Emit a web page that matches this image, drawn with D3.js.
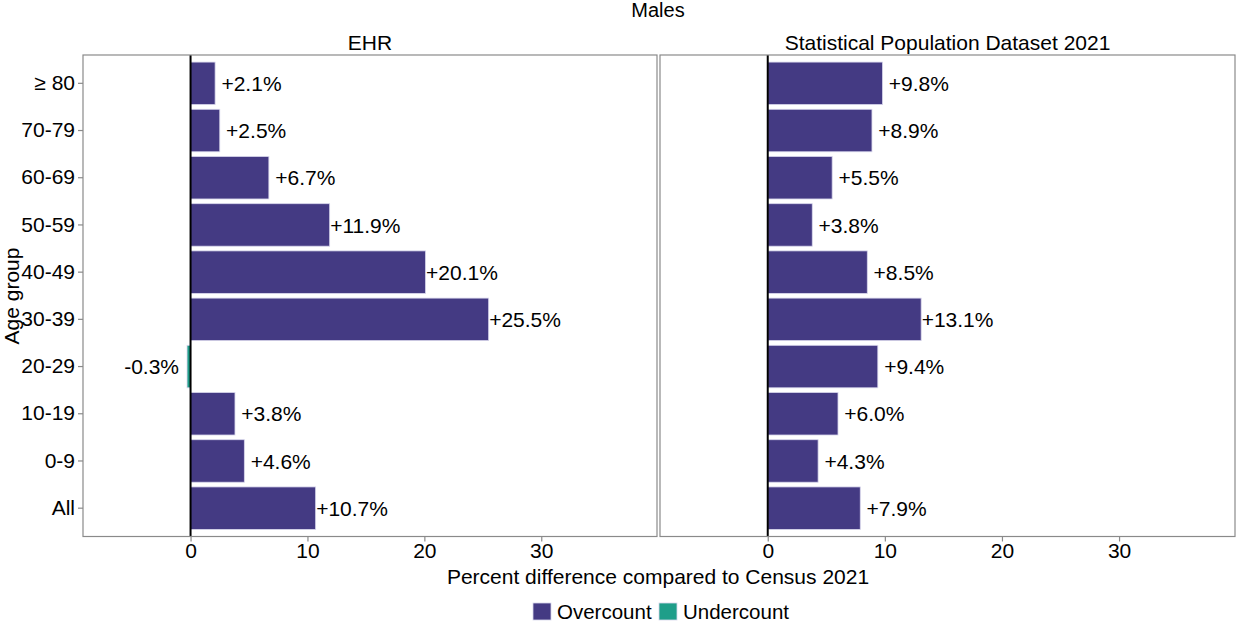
<!DOCTYPE html>
<html><head><meta charset="utf-8">
<script src="https://cdn.jsdelivr.net/npm/d3@7/dist/d3.min.js"></script>
<style>
body{margin:0;background:#fff;}
svg text{font-family:"Liberation Sans",Arial,sans-serif;fill:#000;}
</style></head>
<body><svg id="chart" width="1237" height="622"></svg>
<script>
const categories = ["≥ 80","70-79","60-69","50-59","40-49","30-39","20-29","10-19","0-9","All"];
const panels = ["EHR","Statistical Population Dataset 2021"];
const ehrValues = [2.1, 2.5, 6.7, 11.9, 20.1, 25.5, -0.3, 3.8, 4.6, 10.7];
const spdValues = [9.8, 8.9, 5.5, 3.8, 8.5, 13.1, 9.4, 6.0, 4.3, 7.9];
const xTicks = [0, 10, 20, 30];
const legendLabels = ["Overcount","Undercount"];
const colors = {"Overcount":"#443a83","Undercount":"#1f9e89"};

const svg = d3.select("#chart");
const panelTop = 55, panelBottom = 536.5;
const panelRanges = [[83, 657], [660, 1235]];
const series = [ehrValues, spdValues];
const fmt = d3.formatLocale({decimal: ".", thousands: ",", grouping: [3], currency: ["", ""], minus: "-"}).format("+.1f");
const FONT = '"Liberation Sans",Arial,sans-serif';

const y = d3.scaleBand().domain(categories).range([panelTop, panelBottom]).paddingInner(0.1).paddingOuter(0.15);

svg.append("text").attr("x", 658).attr("y", 17).attr("text-anchor","middle").style("font-size","20px").text("Males");

panels.forEach((p, i) => {
  const [x0, x1] = panelRanges[i];
  const x = d3.scaleLinear().domain([-9.2, 39.9]).range([x0, x1]);
  const g = svg.append("g");
  g.append("text").attr("x", (x0 + x1) / 2).attr("y", 49.5).attr("text-anchor","middle").style("font-size","21px").text(p);
  const data = categories.map((c, k) => ({c, v: series[i][k]}));
  g.selectAll("rect.bar").data(data).join("rect").attr("class","bar")
    .attr("x", d => x(Math.min(0, d.v)))
    .attr("width", d => Math.abs(x(d.v) - x(0)))
    .attr("y", d => y(d.c)).attr("height", y.bandwidth())
    .attr("fill", d => d.v >= 0 ? colors.Overcount : colors.Undercount)
    .attr("stroke", "#d8d6ec").attr("stroke-width", 0.8);
  g.append("line").attr("x1", x(0)).attr("x2", x(0)).attr("y1", panelTop).attr("y2", panelBottom)
    .attr("stroke", "#000").attr("stroke-width", 2);
  g.selectAll("text.lab").data(data).join("text").attr("class","lab")
    .attr("xml:space","preserve")
    .attr("x", d => d.v >= 0 ? x(d.v) + 0.5 : x(d.v) - 8)
    .attr("y", d => y(d.c) + y.bandwidth() / 2).attr("dy","0.36em")
    .attr("text-anchor", d => d.v >= 0 ? "start" : "end")
    .style("font-size","21px").style("white-space","pre")
    .text(d => fmt(d.v).padStart(5, " ") + "%");
  g.append("rect").attr("x", x0).attr("y", panelTop).attr("width", x1 - x0).attr("height", panelBottom - panelTop)
    .attr("fill","none").attr("stroke","#8a8a8a").attr("stroke-width", 1.2);
  const ax = g.append("g").attr("transform", `translate(0,${panelBottom})`)
    .call(d3.axisBottom(x).tickValues(xTicks).tickSize(5).tickPadding(2).tickFormat(d3.format("d")));
  ax.select(".domain").remove();
  ax.selectAll("line").attr("stroke","#8a8a8a").attr("stroke-width",1.2);
  ax.selectAll("text").style("font-size","21px").style("font-family",FONT).attr("fill","#000");
  if (i === 0) {
    const ay = g.append("g").attr("transform", `translate(${x0},0)`)
      .call(d3.axisLeft(y).tickSize(5).tickPadding(3));
    ay.select(".domain").remove();
    ay.selectAll("line").attr("stroke","#8a8a8a").attr("stroke-width",1.2);
    ay.selectAll("text").style("font-size","21px").style("font-family",FONT).attr("fill","#000");
  }
});

svg.append("text").attr("x", 658).attr("y", 584).attr("text-anchor","middle").style("font-size","21px")
  .text("Percent difference compared to Census 2021");
svg.append("text").attr("transform","translate(19,296) rotate(-90)").attr("text-anchor","middle").style("font-size","21px")
  .text("Age group");

const legendX = [533, 659];
legendLabels.forEach((l, i) => {
  svg.append("rect").attr("x", legendX[i]).attr("y", 603).attr("width", 18).attr("height", 17)
    .attr("fill", colors[l]).attr("stroke","#d8d6ec").attr("stroke-width",0.8);
  svg.append("text").attr("x", legendX[i] + 24).attr("y", 619).style("font-size","20.5px").text(l);
});
</script></body></html>
